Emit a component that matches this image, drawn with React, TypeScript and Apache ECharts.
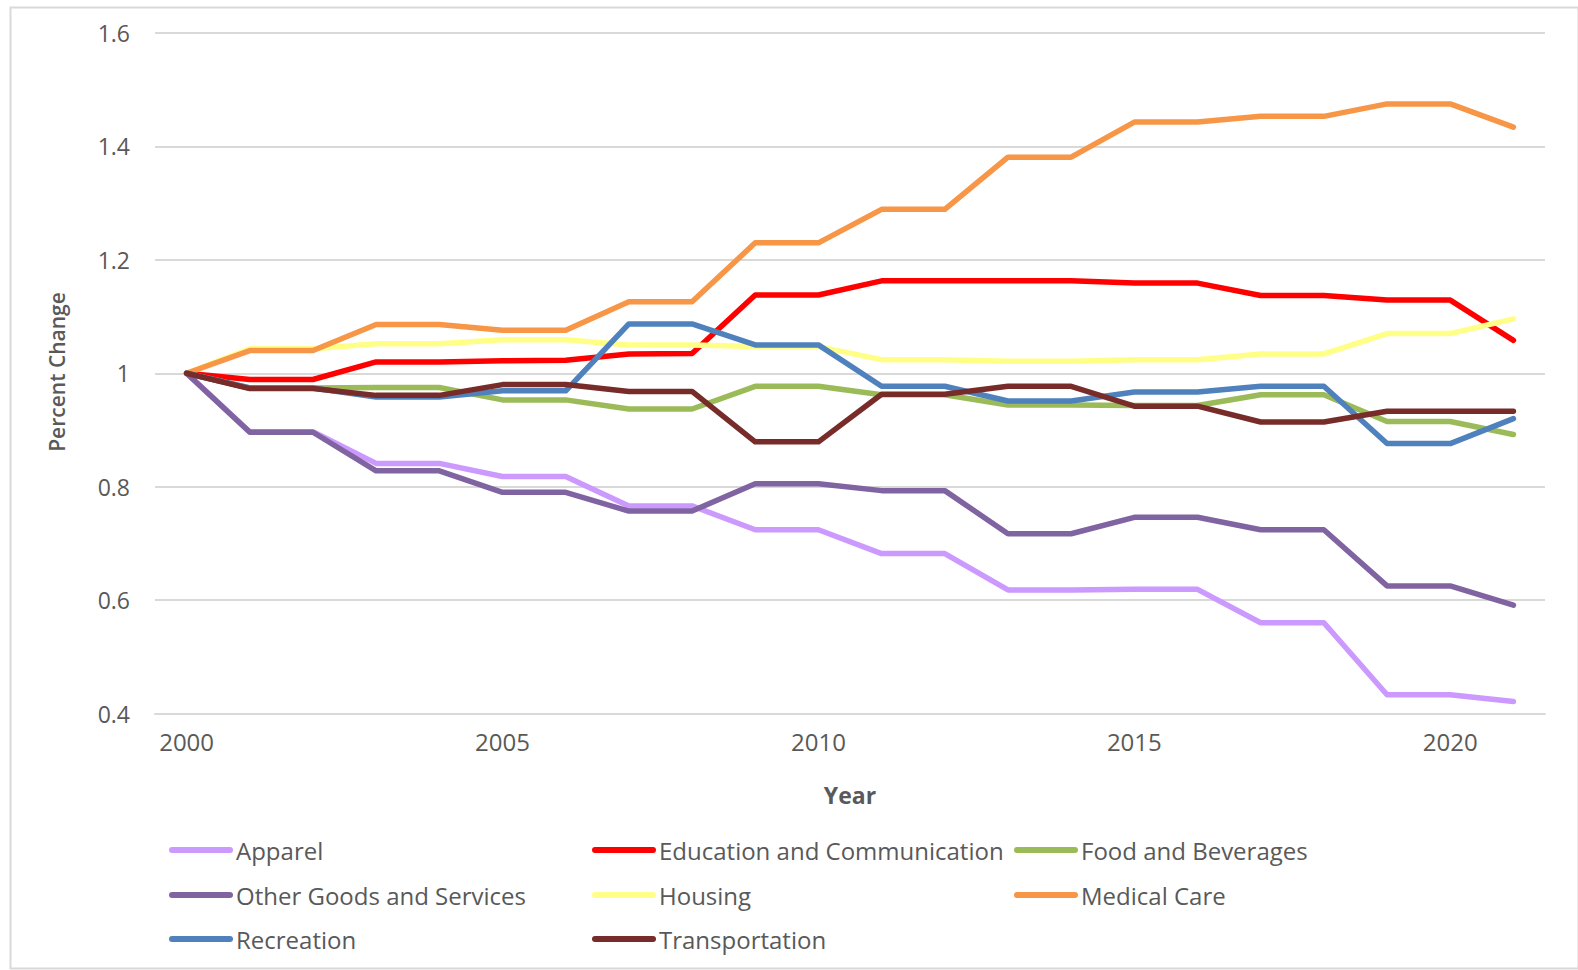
import React, { useEffect, useRef } from "react";
import * as echarts from "echarts";

const years = ["2000","2001","2002","2003","2004","2005","2006","2007","2008","2009","2010","2011","2012","2013","2014","2015","2016","2017","2018","2019","2020","2021"];

const apparel = [1, 0.897, 0.897, 0.841, 0.841, 0.818, 0.818, 0.766, 0.766, 0.724, 0.724, 0.682, 0.682, 0.618, 0.618, 0.619, 0.619, 0.560, 0.560, 0.433, 0.433, 0.421];
const education = [1, 0.989, 0.989, 1.020, 1.020, 1.022, 1.023, 1.034, 1.035, 1.138, 1.138, 1.163, 1.163, 1.163, 1.163, 1.159, 1.159, 1.137, 1.137, 1.129, 1.129, 1.058];
const food = [1, 0.974, 0.974, 0.975, 0.975, 0.953, 0.953, 0.937, 0.937, 0.977, 0.977, 0.962, 0.962, 0.944, 0.944, 0.943, 0.943, 0.962, 0.962, 0.915, 0.915, 0.892];
const otherGoods = [1, 0.896, 0.896, 0.828, 0.828, 0.790, 0.790, 0.757, 0.757, 0.805, 0.805, 0.793, 0.793, 0.717, 0.717, 0.746, 0.746, 0.724, 0.724, 0.625, 0.625, 0.591];
const housing = [1, 1.043, 1.043, 1.052, 1.052, 1.059, 1.059, 1.050, 1.050, 1.047, 1.047, 1.024, 1.024, 1.021, 1.021, 1.024, 1.024, 1.034, 1.034, 1.070, 1.070, 1.096];
const medical = [1, 1.040, 1.040, 1.086, 1.086, 1.076, 1.076, 1.126, 1.126, 1.230, 1.230, 1.289, 1.289, 1.381, 1.381, 1.443, 1.443, 1.453, 1.453, 1.475, 1.475, 1.434];
const recreation = [1, 0.974, 0.974, 0.958, 0.958, 0.969, 0.969, 1.087, 1.087, 1.050, 1.050, 0.977, 0.977, 0.951, 0.951, 0.967, 0.967, 0.977, 0.977, 0.876, 0.876, 0.920];
const transportation = [1, 0.973, 0.973, 0.961, 0.961, 0.980, 0.980, 0.968, 0.968, 0.879, 0.879, 0.963, 0.963, 0.977, 0.977, 0.942, 0.942, 0.914, 0.914, 0.933, 0.933, 0.933];

const seriesNames = ["Apparel", "Education and Communication", "Food and Beverages", "Other Goods and Services", "Housing", "Medical Care", "Recreation", "Transportation"];
const seriesData = [apparel, education, food, otherGoods, housing, medical, recreation, transportation];
const seriesColors = ["#cc99ff", "#ff0000", "#9bbb59", "#8064a2", "#ffff88", "#f79646", "#4f81bd", "#772c2a"];

const FONT = "'Open Sans', 'Noto Sans', sans-serif";
const GRAY = "#595959";

export default function App() {
  const ref = useRef<HTMLDivElement>(null);
  useEffect(() => {
    if (!ref.current) return;
    const chart = echarts.init(ref.current, undefined, { renderer: "svg" });
    const colX = [169, 592, 1014];
    const rowY = [850, 895, 939];
    const legends = seriesNames.map((name, i) => ({
      data: [name],
      left: colX[i % 3],
      top: rowY[Math.floor(i / 3)] - 14,
      padding: 0,
      itemWidth: 64,
      itemHeight: 6,
      icon: "path://M3,0 L61,0 A3,3 0 0 1 61,6 L3,6 A3,3 0 0 1 3,0 Z",
      selectedMode: false,
      textStyle: { fontFamily: FONT, fontSize: 24, color: GRAY, lineHeight: 28, padding: [0, 0, 0, -2] },
    }));
    chart.setOption({
      animation: false,
      backgroundColor: "#ffffff",
      textStyle: { fontFamily: FONT },
      grid: { left: 155, right: 33, top: 33, bottom: 256.5, containLabel: false },
      legend: legends,
      xAxis: {
        type: "category",
        data: years,
        boundaryGap: true,
        axisLine: { show: true, lineStyle: { color: "#d9d9d9", width: 2 } },
        axisTick: { show: false },
        axisLabel: { interval: 4, color: GRAY, fontSize: 24, fontFamily: FONT, margin: 16 },
        splitLine: { show: false },
      },
      yAxis: {
        type: "value",
        min: 0.4,
        max: 1.6,
        interval: 0.2,
        axisLine: { show: false },
        axisTick: { show: false },
        axisLabel: { color: GRAY, fontSize: 23, fontFamily: FONT, margin: 25 },
        splitLine: { lineStyle: { color: "#d9d9d9", width: 2 } },
      },
      graphic: [
        {
          type: "rect",
          left: 8,
          top: 5,
          shape: { width: 1568, height: 961 },
          style: { fill: "none", stroke: "#d9d9d9", lineWidth: 2 },
          silent: true,
          z: -1,
        },
        {
          type: "text",
          x: 850,
          y: 795,
          style: { text: "Year", font: `bold 23px ${FONT}`, fill: GRAY, align: "center", verticalAlign: "middle" },
        },
        {
          type: "text",
          x: 57,
          y: 372,
          rotation: Math.PI / 2,
          style: { text: "Percent Change", font: `600 21px ${FONT}`, fill: GRAY, align: "center", verticalAlign: "middle" },
        },
      ],
      series: seriesNames.map((name, i) => ({
        name,
        type: "line",
        data: seriesData[i],
        symbol: "none",
        showSymbol: false,
        color: seriesColors[i],
        lineStyle: { color: seriesColors[i], width: 5.5, join: "round", cap: "round" },
        z: 2 + i,
      })),
    });
    return () => chart.dispose();
  }, []);
  return <div ref={ref} style={{ position: "fixed", left: 0, top: 0, width: 1578, height: 970 }} />;
}
